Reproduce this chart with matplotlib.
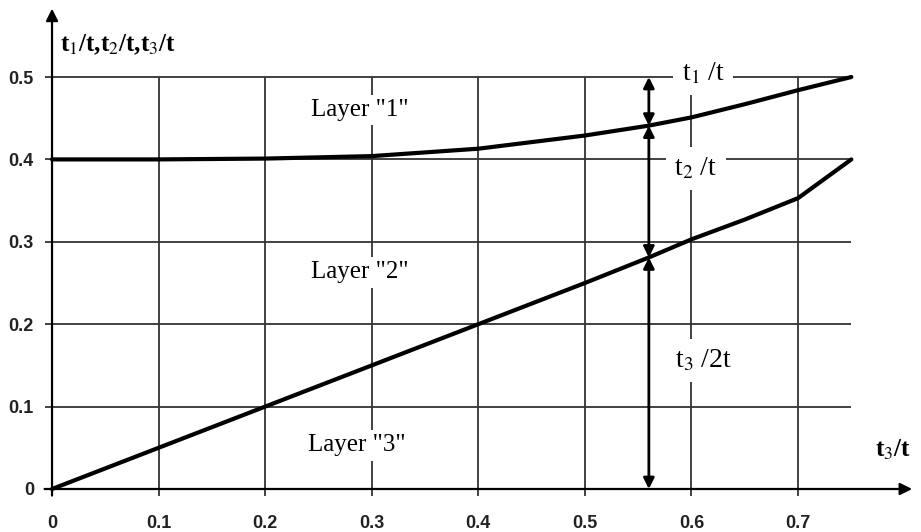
import numpy as np
import matplotlib
matplotlib.use("Agg")
import matplotlib.pyplot as plt

plt.rcParams['mathtext.fontset'] = 'stix'

# t3/t along the x axis, layer boundaries
x_curve = [0, 0.1, 0.2, 0.3, 0.4, 0.5, 0.56, 0.6, 0.65, 0.7, 0.75]
upper = [0.4, 0.4, 0.401, 0.404, 0.413, 0.429, 0.441, 0.451, 0.467, 0.484, 0.5]
lower = [0, 0.05, 0.1, 0.15, 0.2, 0.25, 0.281, 0.303, 0.327, 0.353, 0.4]

x_ticks = [0, 0.1, 0.2, 0.3, 0.4, 0.5, 0.6, 0.7]
x_ticklabels = ["0", "0.1", "0.2", "0.3", "0.4", "0.5", "0.6", "0.7"]
y_ticks = [0, 0.1, 0.2, 0.3, 0.4, 0.5]
y_ticklabels = ["0", "0.1", "0.2", "0.3", "0.4", "0.5"]

grid_top = 0.5
grid_right = 0.75
arrow_x = 0.56

fig = plt.figure(figsize=(9.21, 5.32), dpi=100)
ax = fig.add_axes([0.0102, 0.0034, 0.9894, 0.9835])
ax.set_xlim(-0.04, 0.815)
ax.set_ylim(-0.05, 0.585)

gc = "#333333"
# grid
ax.vlines(x_ticks[1:], -0.008, grid_top, color=gc, lw=1.3, zorder=1)
ax.hlines(y_ticks[1:], -0.007, grid_right, color=gc, lw=1.3, zorder=1)

# axes with arrows
ax.annotate("", xy=(0, 0.583), xytext=(0, -0.008),
            arrowprops=dict(arrowstyle="-|>", color="black", lw=1.6,
                            mutation_scale=18, shrinkA=0, shrinkB=0))
ax.annotate("", xy=(0.807, 0), xytext=(-0.007, 0),
            arrowprops=dict(arrowstyle="-|>", color="black", lw=1.6,
                            mutation_scale=18, shrinkA=0, shrinkB=0))

for s in ax.spines.values():
    s.set_visible(False)
ax.spines['bottom'].set_position(('data', 0))
ax.spines['left'].set_position(('data', 0))

ax.set_xticks(x_ticks)
ax.set_xticklabels(x_ticklabels)
ax.set_yticks(y_ticks)
ax.set_yticklabels(y_ticklabels)
ax.tick_params(axis='x', direction='out', length=0, pad=19, labelsize=13)
ax.tick_params(axis='y', direction='out', length=0, pad=13, labelsize=13)
for lab in ax.get_xticklabels() + ax.get_yticklabels():
    lab.set_fontweight('bold')
    lab.set_family('Liberation Sans')
    lab.set_color('#222222')

# curves
ax.plot(x_curve, upper, color="black", lw=3, solid_capstyle='round', zorder=3)
ax.plot(x_curve, lower, color="black", lw=3, solid_capstyle='round', zorder=3)

# thickness arrows
y_up = np.interp(arrow_x, x_curve, upper)
y_lo = np.interp(arrow_x, x_curve, lower)
for a, b in [(grid_top, y_up), (y_up, y_lo), (y_lo, 0)]:
    ax.annotate("", xy=(arrow_x, b), xytext=(arrow_x, a),
                arrowprops=dict(arrowstyle="<|-|>", color="black", lw=2,
                                mutation_scale=16, shrinkA=0, shrinkB=0),
                zorder=4)

serif = 'Liberation Serif'
box = dict(facecolor='white', edgecolor='none', pad=3)
ax.text(0.289, 0.46, 'Layer "1"', family=serif, fontsize=18, ha='center', va='center',
        bbox=box, zorder=2)
ax.text(0.289, 0.263, 'Layer "2"', family=serif, fontsize=18, ha='center', va='center',
        bbox=box, zorder=2)
ax.text(0.286, 0.053, 'Layer "3"', family=serif, fontsize=18, ha='center', va='center',
        bbox=box, zorder=2)

ax.text(0.611, 0.504, 't$_1$ /t', family=serif, fontsize=20, ha='center', va='center',
        bbox=dict(facecolor='white', edgecolor='none', pad=6), zorder=2)
ax.text(0.604, 0.389, 't$_2$ /t', family=serif, fontsize=20, ha='center', va='center',
        bbox=dict(facecolor='white', edgecolor='none', pad=6), zorder=2)
ax.text(0.611, 0.156, 't$_3$ /2t', family=serif, fontsize=20, ha='center', va='center',
        bbox=dict(facecolor='white', edgecolor='none', pad=6), zorder=2)

ax.text(0.789, 0.047, 't$_3$/t', family=serif, fontsize=18, fontweight='bold',
        ha='center', va='center')
ax.text(0.0075, 0.539, 't$_1$/t,t$_2$/t,t$_3$/t', family=serif, fontsize=18,
        fontweight='bold', ha='left', va='center')

fig.savefig("out.png", dpi=100)
